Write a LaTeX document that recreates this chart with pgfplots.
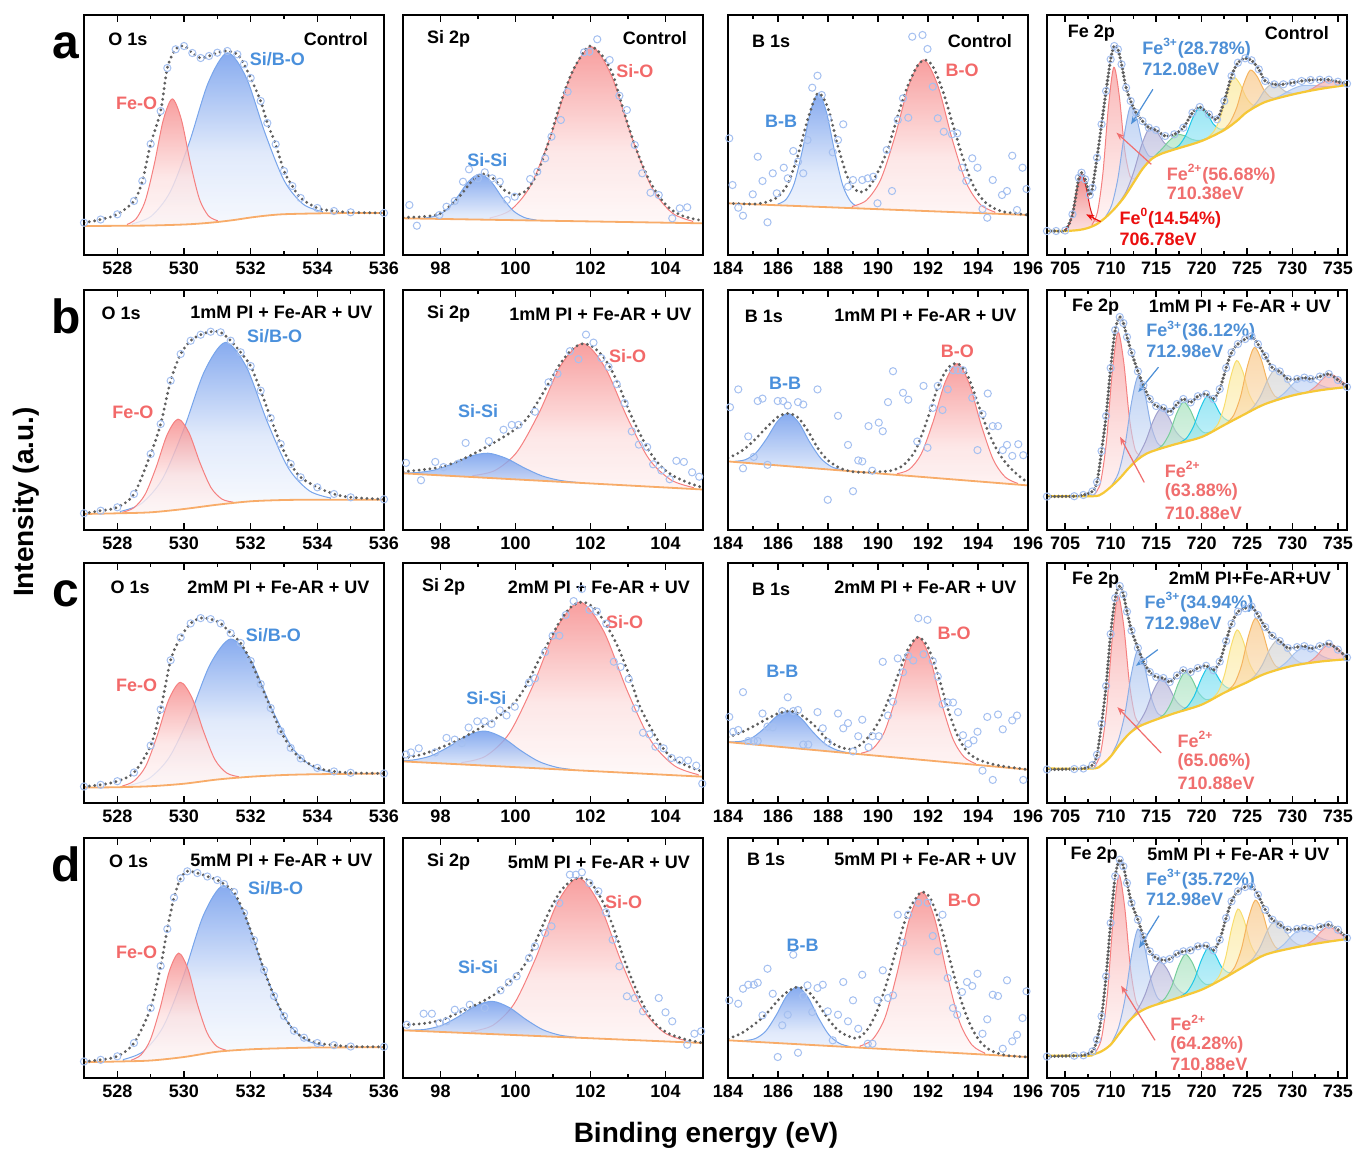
\documentclass[border=0pt]{standalone}
\usepackage{fontspec}
\setmainfont{Liberation Sans}
\usepackage{pgfplots}
\usepackage{pgfplotstable}
\pgfplotsset{compat=1.18}
\usetikzlibrary{arrows.meta}

\definecolor{pkR}{RGB}{245,128,128}
\definecolor{pkRf}{RGB}{246,135,135}
\definecolor{pkB}{RGB}{120,165,235}
\definecolor{pkBf}{RGB}{105,150,235}
\definecolor{bgO}{RGB}{248,172,105}
\definecolor{bgY}{RGB}{246,200,55}
\definecolor{rawc}{RGB}{165,192,240}
\definecolor{labR}{RGB}{242,105,105}
\definecolor{labB}{RGB}{74,144,220}
\definecolor{fe0}{RGB}{225,30,30}
\definecolor{fe0f}{RGB}{232,60,60}
\definecolor{fe3}{RGB}{140,175,232}
\definecolor{fe3f}{RGB}{150,182,236}
\definecolor{fepu}{RGB}{160,160,205}
\definecolor{fepuf}{RGB}{170,170,212}
\definecolor{fegr}{RGB}{120,205,155}
\definecolor{fegrf}{RGB}{150,220,178}
\definecolor{fecy}{RGB}{30,200,232}
\definecolor{fecyf}{RGB}{90,215,238}
\definecolor{feye}{RGB}{248,222,110}
\definecolor{feyef}{RGB}{250,228,135}
\definecolor{feor}{RGB}{245,180,95}
\definecolor{feorf}{RGB}{247,190,115}
\definecolor{fegy}{RGB}{195,195,195}
\definecolor{fegyf}{RGB}{205,205,205}
\definecolor{felb}{RGB}{165,195,240}
\definecolor{felbf}{RGB}{180,202,242}
\definecolor{fepk}{RGB}{238,150,150}
\definecolor{fepkf}{RGB}{242,165,165}
\definecolor{envc}{RGB}{95,95,95}
\definecolor{labFe3}{RGB}{77,143,214}
\definecolor{labFe2}{RGB}{240,110,110}
\definecolor{labFe0}{RGB}{235,15,15}

\newcommand{\lf}{\bfseries\fontsize{9}{10.5}\selectfont}
\newcommand{\pk}[3]{\addplot[draw=#1, line width=0.5pt, top color=#2, bottom color=white, middle color=#2!25, fill opacity=0.8, smooth] coordinates {#3} \closedcycle;}
\newcommand{\fpk}[3]{\addplot[draw=#1, line width=0.5pt, top color=#2, bottom color=white, middle color=#2!45, fill opacity=0.6, smooth] coordinates {#3} \closedcycle;}

\pgfplotsset{
 panel/.style={anchor=north west, scale only axis, width=150pt, height=120pt, ymin=0, ymax=240, ytick=\empty, axis on top, axis line style={line width=1pt}, tick style={line width=0.8pt, black}, major tick length=3.5pt, minor tick length=2pt, tick align=inside, minor x tick num=1, xticklabel style={font=\lf}, /pgf/number format/assume math mode=true},
 cover/.style={fill=white, draw=none, smooth},
 bgline/.style={draw=bgO, line width=0.9pt, smooth},
 bglineY/.style={draw=bgY, line width=1.1pt, smooth},
 raw/.style={only marks, mark=o, mark size=1.8pt, draw=rawc, mark options={line width=0.5pt}},
 env/.style={draw=envc, line width=1.6pt, line cap=round, dash pattern=on 0pt off 2.7pt, smooth},
 envF/.style={draw=envc, line width=1.8pt, line cap=round, dash pattern=on 0pt off 1.9pt, smooth},
}

% ---------------- O 1s ----------------
\pgfplotstableread{
x y
527 29
528 29.2
529 29.5
530 30.5
530.5 31.5
531 33
531.5 35
532 37.5
532.5 39.5
533 40.8
534 41.6
535 42
536 42
}\bgOa
\pgfplotstableread{
x y
527 32.3
527.5 35.5
528 40.7
528.5 54
528.75 74
529 111
529.3 144
529.5 187
529.75 205.7
530 209
530.25 202
530.5 197
530.75 199
531 202.3
531.3 204
531.6 200.7
531.8 190.7
532 177
532.3 154
532.5 132
532.75 110.7
533 84
533.25 69
533.5 57
534 47
534.5 44
535 42.7
536 42
}\envOa
\pgfplotstableread{
x y
527 16
528 16.7
529 17.7
530 21
531 25.3
532 28.7
533 30
534 30.3
536 30.3
}\bgOb
\pgfplotstableread{
x y
527 16.7
527.5 19.3
528 22.7
528.5 36
529 76
529.3 106
529.6 149.3
529.9 176
530.2 189.3
530.5 195.3
530.8 198.3
531.1 197.7
531.4 189.3
531.7 177.7
532 164
532.3 139.3
532.6 112
532.9 86
533.2 66
533.5 52.7
534 42.7
534.5 36
535 32.7
536 30.7
}\envOb
\pgfplotstableread{
x y
527 15.4
528 15.8
529 16.8
530 19.3
531 23.5
532 26.3
533 28
534 28.8
536 29.5
}\bgOc
\pgfplotstableread{
x y
527 16.5
527.5 18.2
528 21.8
528.5 30.5
529 57.5
529.3 93.7
529.6 142.8
529.9 165.6
530.2 179.6
530.5 184.9
530.8 183.9
531.1 179.6
531.4 169.8
531.7 160
532 142
532.3 119
532.6 95
532.9 72
533.2 55.1
533.5 44.6
534 35.1
534.5 31.6
535 30.2
536 29.5
}\envOc
\pgfplotstableread{
x y
527 15.8
528 16.5
529 17.5
530 21
531 26.3
532 28.7
533 29.8
534 30.5
536 30.8
}\bgOd
\pgfplotstableread{
x y
527 16.5
527.5 18.2
528 21.7
528.5 35
529 70
529.3 112
529.5 149
529.7 180.4
529.9 199.7
530.1 206.7
530.4 205
530.7 201.5
531 198
531.2 194
531.5 186
531.8 165
532.1 138
532.4 108
532.7 82
533 62
533.3 47.3
533.6 40.3
534 35
534.5 32.9
535 31.5
536 31.2
}\envOd

% ---------------- Si 2p ----------------
\pgfplotstableread{
x y
97 36.7
105 31.7
}\bgSa
\pgfplotstableread{
x y
97 37.7
97.5 38.3
98 41.7
98.5 58.3
98.8 72.3
99.1 81
99.4 76.7
99.7 65
100 60
100.3 65
100.6 83.3
100.9 115
101.2 152
101.5 182
101.8 202
102 209
102.3 200
102.6 180
102.9 142
103.2 108
103.5 80
103.8 60
104.1 47
104.4 40
104.7 36.5
105 34.3
}\envSa
\pgfplotstableread{
x y
97.17 50
97.37 29.3
97.97 40
98.16 48.3
98.38 54
98.6 73.3
98.76 85.7
99.0 76.7
99.18 82.7
99.38 76.7
99.58 73.3
99.77 55
99.98 58.3
100.39 76
100.58 83.3
100.79 96.7
100.96 118.3
101.21 135
101.39 163.3
101.83 202.7
101.97 203.3
102.18 215.7
102.51 195
102.77 159.3
102.97 145
103.18 110
103.38 81.7
103.6 62.3
103.82 60
104.18 36.7
104.38 46.7
104.58 47.7
}\rawSa
\pgfplotstableread{
x y
97 56.7
105 40.5
}\bgSb
\pgfplotstableread{
x y
97 58.4
97.5 60.2
98 62.9
98.5 69.2
99 78.5
99.5 88.9
100 101
100.3 111.3
100.6 128.6
100.9 147.7
101.2 166.7
101.5 180.5
101.8 186.4
102.1 182.2
102.4 170.1
102.7 149.4
103 121.7
103.3 97.5
103.6 76.8
103.9 62.9
104.2 54.3
104.6 47.4
105 42.2
}\envSb
\pgfplotstableread{
x y
97.08 67.1
97.48 49.8
97.86 68.1
98.08 62.9
98.48 66.4
98.67 87.1
99.29 88.9
99.68 100.3
99.9 105.1
100.08 105.1
100.52 118.3
100.88 147.7
101.12 156.3
101.45 178.8
101.68 170.8
101.88 195.4
102.08 187.4
102.29 171.9
102.48 163.2
102.7 145.9
102.91 126.9
103.1 98.6
103.29 85.4
103.51 83
103.67 65.7
103.89 59.5
104.11 50.8
104.29 69.2
104.49 68.1
104.71 57.7
104.9 53.3
}\rawSb
\pgfplotstableread{
x y
97 41.6
105 26.3
}\bgSc
\pgfplotstableread{
x y
97 45
97.5 48.5
98 55.4
98.5 63.4
99 73.8
99.5 85.2
100 101.5
100.3 118.8
100.6 141.3
100.9 162.1
101.2 182.8
101.5 196.7
101.8 200.9
102.1 195
102.4 179.4
102.7 158.6
103 130.9
103.3 98
103.6 75.5
103.9 56.4
104.2 44.3
104.6 36.7
105 31.2
}\envSc
\pgfplotstableread{
x y
97.08 48.5
97.21 50.6
97.42 54.7
97.86 50.6
98.16 65.1
98.38 63.4
98.57 59.9
98.75 75.5
98.98 81.7
99.18 81.7
99.36 79
99.58 92.8
99.76 87.6
99.98 96.3
100.36 120.5
100.52 124.7
100.79 151
100.99 167.3
101.17 167.3
101.34 188
101.55 201.9
101.77 214
101.97 193.2
102.17 191.5
102.42 179.4
102.62 141.3
102.8 136.1
103.02 124
103.2 94.5
103.4 70.3
103.57 68.6
103.73 56.4
103.95 54.7
104.16 45
104.38 42.6
104.6 42.6
104.82 37.4
104.98 19.4
}\rawSc
\pgfplotstableread{
x y
97 47.7
105 35
}\bgSd
\pgfplotstableread{
x y
97 53.3
97.5 54.3
98 57.7
98.5 65.7
99 74.3
99.5 85
100 101.7
100.3 116.7
100.6 141.7
100.9 166.7
101.2 186.7
101.5 197.7
101.75 200
102 195.7
102.3 178.3
102.6 151.7
102.9 118.3
103.2 90
103.5 66.7
103.8 51.7
104.1 44.3
104.5 39
105 35
}\envSd
\pgfplotstableread{
x y
97.1 53.3
97.55 64.3
97.77 64.3
97.97 55
98.16 56.7
98.38 68.3
98.6 66.7
98.78 73.3
99.18 70
99.6 87.7
99.82 95.7
100.03 101.7
100.36 120
100.52 131.7
100.79 145
100.96 151.7
101.17 175
101.45 203.3
101.61 203.3
101.77 205.7
101.97 195
102.21 186.7
102.41 165.7
102.59 138.3
102.77 111.7
102.97 81.7
103.18 80
103.4 66.7
103.82 80
104.0 65.7
104.18 56.7
104.58 33.3
104.77 44.3
104.95 46.7
}\rawSd

% ---------------- B 1s ----------------
\pgfplotstableread{
x y
184 51.7
196 40
}\bgBa
\pgfplotstableread{
x y
184 51.7
185 51
185.5 52.7
186 58.3
186.4 71.7
186.8 100
187.2 136.7
187.6 161.7
188 146.7
188.4 108.3
188.8 76.7
189.2 63.3
189.6 66.7
190 83.3
190.4 106.7
190.8 140
191.2 170
191.6 190
191.9 195
192.2 188.3
192.6 163.3
193 130
193.4 96.7
193.8 70
194.2 55
194.6 47.3
195 43.3
195.5 41.7
196 40
}\envBa
\pgfplotstableread{
x y
184.05 116.7
184.18 70
184.41 47.3
184.6 39.3
184.99 60.7
185.19 98.3
185.38 74
185.58 32.7
185.79 81.7
185.95 61.7
186.23 87.3
186.39 76.7
186.61 104
186.8 93.3
187.01 81.7
187.18 115
187.37 167.3
187.58 179.3
187.75 160
187.99 136.7
188.19 102.7
188.4 115
188.61 130.7
188.8 68.3
189.0 75
189.37 75
189.59 76.7
189.81 78.3
189.98 51.7
190.35 105
190.56 64
190.79 135
191.0 156.7
191.21 137.3
191.37 218.3
191.78 220
191.98 206
192.19 168.3
192.39 136.7
192.63 123.3
192.96 120.7
193.17 121.7
193.36 87.3
193.53 74
193.77 96.7
193.98 87.3
194.18 46
194.37 37.3
194.59 75
194.96 60
195.16 64
195.37 99.3
195.56 45
195.78 87.3
195.94 66
}\rawBa
\pgfplotstableread{
x y
184 68.6
196 44.6
}\bgBb
\pgfplotstableread{
x y
184 72
184.5 78.2
185 88.5
185.5 101.5
186 113.2
186.4 116.6
186.8 112.5
187.2 98.8
187.6 81.6
188 69.6
188.5 61.7
189 58.3
189.5 57.6
190 58.3
190.5 59.3
191 64.5
191.5 79.9
192 112.5
192.4 143.4
192.8 162.2
193.2 166.4
193.6 153.7
194 126.2
194.4 98.8
194.8 78.2
195.2 64.5
195.6 54.9
196 47.3
}\envBb
\pgfplotstableread{
x y
184.08 122.8
184.41 140.6
184.6 61.7
184.81 93.6
185.03 73.1
185.19 129
185.38 131.4
185.58 65.2
185.99 129
186.2 129
186.39 124.5
186.8 127.9
187.01 125.5
187.58 140.6
187.99 30.2
188.4 114.2
188.8 85.1
189.0 38.8
189.21 69.6
189.37 68.6
189.62 103.9
189.77 59.3
190.03 107.4
190.19 98.8
190.4 127.9
190.6 158.8
191.0 137.2
191.21 130.3
191.57 88.5
191.82 144.1
191.98 82.3
192.19 122.1
192.39 144.1
192.58 120
192.79 140.6
193.0 159.8
193.2 159.8
193.4 159.8
193.77 132.1
193.98 79.9
194.18 115.9
194.39 136.5
194.59 103.9
194.8 103.9
194.99 79.9
195.16 85.1
195.37 74.1
195.61 85.8
195.81 74.8
}\rawBb
\pgfplotstableread{
x y
184 60.9
196 33.4
}\bgBc
\pgfplotstableread{
x y
184 66.1
184.5 70.2
185 76.4
185.5 83.3
186 89.5
186.5 91.9
187 86.8
187.5 76.4
188 62.7
188.5 55.8
189 54.1
189.5 62.7
190 79.9
190.4 102.3
190.8 128.1
191.2 153.9
191.6 166
192 155.6
192.4 128.1
192.8 93.7
193.2 66.1
193.6 50.6
194 43.7
194.5 39.3
195 36.8
195.5 35.1
196 33.4
}\envBc
\pgfplotstableread{
x y
184.05 86.1
184.21 71.3
184.41 73
184.6 110.9
184.81 62
185.03 62
185.19 62
185.38 89.5
185.58 76.4
185.79 75.7
186.17 91.9
186.39 105.7
186.61 91.9
186.8 93
187.01 58.5
187.21 58.5
187.58 90.9
187.79 74.7
187.99 60.9
188.4 89.5
188.61 74.7
188.8 79.9
189.0 51.6
189.21 66.8
189.37 83.3
189.62 55.8
189.78 66.8
190.03 66.8
190.19 141.2
190.4 87.5
190.6 101.2
190.79 144.6
191.0 130.8
191.21 147
191.41 142.5
191.61 184.9
191.82 148.7
191.98 183.2
192.19 141.9
192.39 126.4
192.58 98.8
192.79 100.5
193.0 100.5
193.2 90.9
193.4 67.8
193.61 59.2
193.82 62.7
193.98 71.3
194.18 32.4
194.37 86.1
194.59 23.1
194.8 88.5
194.99 73.7
195.37 82.6
195.56 87.5
195.81 23.1
}\rawBc
\pgfplotstableread{
x y
184 37.7
196 21
}\bgBd
\pgfplotstableread{
x y
184 39.3
184.5 44.3
185 52.7
185.5 63.3
186 77.7
186.4 86.7
186.8 91
187.2 86.7
187.6 74.3
188 59.3
188.4 47.7
188.8 42
189.2 40
189.6 49.3
190 69.3
190.4 99.3
190.8 134.3
191.2 166
191.6 182.7
191.8 186
192.1 179.3
192.5 152.7
192.9 116
193.3 79.3
193.7 52.7
194.1 36
194.5 27.7
195 23.3
195.5 21.7
196 21
}\envBd
\pgfplotstableread{
x y
184.05 77.7
184.41 74.3
184.6 89.3
184.81 93.3
185.03 93.3
185.19 95.3
185.38 62.7
185.58 109.3
185.79 84.3
185.99 21
186.17 52.7
186.39 63.3
186.61 123.3
186.8 25.3
187.01 82
187.18 92.7
187.37 66
187.58 90
187.79 93.3
187.99 66.7
188.19 37.7
188.4 63.3
188.61 96
188.8 56.7
189.0 77.7
189.21 49.3
189.37 103.3
189.59 34.3
189.78 34.3
189.98 77.7
190.19 107.7
190.4 80
190.6 82.7
190.79 163.3
191.0 135.3
191.21 163.3
191.61 175.3
191.98 175.3
192.19 142
192.39 126.7
192.58 163.3
192.79 100
193.0 70
193.17 63.3
193.36 86
193.56 96
193.77 92
193.98 104.3
194.18 44.3
194.37 58.7
194.59 83.3
194.8 82
194.99 29.3
195.16 97.7
195.37 36.7
195.56 43.3
195.78 60
195.94 86.7
}\rawBd

% ---------------- Fe 2p ----------------
\pgfplotstableread{
x y
703 24
705 24
706.5 25
707.5 27
708.5 31
709.5 38
710.5 47
711.5 58
712.5 72
713.5 86
714.5 96
715.5 101
717 105.5
720 114
722.5 125
724 135
725 143
727 153
730 160.5
733 166
736 170
}\bgFa
\pgfplotstableread{
x y
703 24
704 24
705 24.5
705.8 40.7
706.5 77.3
706.8 82.3
707.2 75.7
707.7 60
708 67.3
708.5 97.3
709 130.7
709.5 164
710 195.7
710.4 209
710.8 205.7
711.2 190.7
711.7 167.3
712.2 154
712.8 142.3
713.5 134
714.2 127.3
715 125
716 119
717 120.7
718 127.3
719 142.3
719.8 148
720.8 140.7
721.7 135.7
722.5 154
723.3 179
724 192.3
724.8 196.7
725.5 194.7
726.3 185.7
727 174
728 170.7
729 170.7
730 172.3
731 174
732 175
733 175.3
734 175.3
735 173.3
736 171.3
}\envFa
\pgfplotstableread{
x y
703 33.8
708 33.8
709 36
710 43
711 51.7
712 62
713 70.7
714 76.6
715 80
717 85.5
720 93
722.5 105
725 117
727 126
730 134.5
733 139.7
736 143
}\bgFb
\pgfplotstableread{
x y
703 33.5
706 33.8
707 35
708 38.6
708.5 48
709 79
709.5 114
710 162
710.5 200
711 213
711.4 207
711.8 193
712.3 177.6
713 158.6
713.6 144.8
714.3 131
715 124
715.8 122
716.5 118
717.3 126
718 131
718.8 127.6
719.6 133.8
720.5 136
721.3 131
722 141
722.7 162
723.3 177.6
724 186
724.8 191
725.5 193.8
726.2 186
727 174
727.8 162
728.6 158.6
729.5 151
730.5 151
731.3 152.4
732 151
733 153.4
734 156
735 150
736 143
}\envFb
\pgfplotstableread{
x y
703 34.5
708 34.5
709 38
710 46.5
711 58.6
712 69
713 75.9
714 80
715 83.4
717 89.7
720 98.3
722.5 110.3
725 120.7
727 129.3
730 137.2
733 141.4
736 143.8
}\bgFc
\pgfplotstableread{
x y
703 33.5
706 34
707 34.5
708 38
708.5 48.3
709 79.3
709.5 117
710 169
710.5 205
711 217
711.4 208.6
711.8 191.4
712.3 172.4
713 155
713.6 141.4
714.3 131
715 126
715.8 125
716.5 121
717.3 127.6
718 132.8
718.8 131
719.6 135
720.5 137.2
721.3 132.8
722 141.4
722.7 162
723.3 179.3
724 191.4
724.8 194.8
725.5 196.6
726.2 188
727 175.9
727.8 167.2
728.6 162
729.5 155
730.5 155.9
731.3 156.9
732 154.5
733 156.9
734 159.3
735 153.4
736 145.5
}\envFc
\pgfplotstableread{
x y
703 22.3
707.5 22.3
708 23.3
709 26.7
710 33.3
711 45
712 56.7
713 65
714 70
715 73.3
717 79
720 88.3
722.5 100
725 113.3
727 123.3
730 130
733 135
736 139
}\bgFd
\pgfplotstableread{
x y
703 21.5
706 22.3
707 22.7
708 26.7
708.5 38.3
709 61.7
709.5 101.7
710 155
710.5 201.7
711 218.3
711.4 211.7
711.8 195
712.3 175
713 158.3
713.6 141.7
714.3 126.7
715 120
715.8 117.7
716.5 119
717.3 124.3
718 126.7
718.8 127.7
719.6 131.7
720.5 132.3
721.3 127.7
722 138.3
722.7 160
723.3 176.7
724 186.7
724.8 191
725.5 191.7
726.2 183.3
727 168.3
727.8 158.3
728.6 153.3
729.5 148.3
730.5 149
731.3 150
732 149
733 151
734 153.3
735 148.3
736 140
}\envFd

\begin{document}
\begin{tikzpicture}
\useasboundingbox (0,0) rectangle (678pt,-574pt);

% ================= ROW a =================
\begin{axis}[panel, at={(42pt,-7.5pt)}, xmin=527, xmax=536, xtick={528,530,532,534,536}]
\pk{pkB}{pkBf}{(528.45,31.2) (529.02,38.9) (529.59,63.4) (530.16,112.6) (530.73,172.5) (531.3,202.2) (531.87,177.2) (532.44,121.1) (533.01,74.1) (533.58,50.7) (534.15,43.4)}
\pk{pkR}{pkRf}{(528.30,30.7) (528.57,36.5) (528.84,54.4) (529.11,91.0) (529.38,135.1) (529.65,156.1) (529.92,135.6) (530.19,92.3) (530.46,56.3) (530.73,39.3) (531.00,34.4)}
\addplot[cover] table {\bgOa} \closedcycle;
\addplot[bgline] table {\bgOa};
\addplot[raw] table {\envOa};
\addplot[env] table {\envOa};
\node[anchor=west, font=\lf] at (rel axis cs:0.058,0.9) {O 1s};
\node[anchor=east, font=\lf] at (rel axis cs:0.97,0.9) {Control};
\node[font=\lf, text=labR] at (axis cs:528.58,152) {Fe-O};
\node[font=\lf, text=labB] at (axis cs:532.8,196) {Si/B-O};
\end{axis}

\begin{axis}[panel, at={(201.5pt,-7.5pt)}, xmin=97, xmax=105, xtick={98,100,102,104}]
\pk{pkR}{pkRf}{(99.32,37.1) (99.86,44.7) (100.4,69.2) (100.94,119.3) (101.48,179.8) (102.02,208.3) (102.56,179.1) (103.1,117.8) (103.64,67.1) (104.18,42) (104.72,33.8)}
\pk{pkB}{pkBf}{(97.55,36.9) (97.85,38.8) (98.15,45) (98.45,58) (98.75,73.7) (99.05,81) (99.35,73.3) (99.65,57.2) (99.95,43.9) (100.25,37.3) (100.55,35)}
\addplot[cover] table {\bgSa} \closedcycle;
\addplot[bgline] table {\bgSa};
\addplot[raw] table {\rawSa};
\addplot[env] table {\envSa};
\node[anchor=west, font=\lf] at (rel axis cs:0.057,0.9) {Si 2p};
\node[anchor=east, font=\lf] at (rel axis cs:0.97,0.905) {Control};
\node[font=\lf, text=labB] at (axis cs:99.25,95) {Si-Si};
\node[font=\lf, text=labR] at (axis cs:103.18,184.3) {Si-O};
\end{axis}

\begin{axis}[panel, at={(364pt,-7.5pt)}, xmin=184, xmax=196, xtick={184,186,...,196}]
\pk{pkB}{pkBf}{(186.0,51) (186.33,55.8) (186.65,71.6) (186.97,104.1) (187.3,143.3) (187.62,161.7) (187.94,142.6) (188.27,102.8) (188.59,69.7) (188.91,53.3) (189.24,47.7)}
\pk{pkR}{pkRf}{(188.97,48.6) (189.54,54.8) (190.11,75.6) (190.68,118.7) (191.25,170.7) (191.82,195.1) (192.39,169.6) (192.96,116.4) (193.53,72.3) (194.1,50.4) (194.67,43)}
\addplot[cover] table {\bgBa} \closedcycle;
\addplot[bgline] table {\bgBa};
\addplot[raw] table {\rawBa};
\addplot[env] table {\envBa};
\node[anchor=west, font=\lf] at (rel axis cs:0.057,0.89) {B 1s};
\node[anchor=east, font=\lf] at (rel axis cs:0.97,0.89) {Control};
\node[font=\lf, text=labB] at (axis cs:186.12,133.3) {B-B};
\node[font=\lf, text=labR] at (axis cs:193.36,185) {B-O};
\end{axis}

\begin{axis}[panel, at={(523.5pt,-7.5pt)}, xmin=703, xmax=736, xtick={705,710,...,735}]
\fpk{fe0}{fe0f}{(704.85,24.6) (705.34,28.6) (705.83,42.5) (706.31,66.4) (706.8,80.6) (707.29,68.1) (707.78,46) (708.26,34.4) (708.75,33.4)}
\fpk{pkR}{pkRf}{(707.95,30.4) (708.55,42.8) (709.15,81.8) (709.75,147.5) (710.35,187.7) (710.95,159.2) (711.55,104.9) (712.15,78.5) (712.75,77.1)}
\fpk{fe3}{fe3f}{(709.45,38.5) (710.13,50.2) (710.8,76.6) (711.48,119) (712.15,148.1) (712.83,137.8) (713.5,112.3) (714.18,99.3) (714.85,98.7)}
\fpk{fepu}{fepuf}{(710.9,51.8) (711.73,63.8) (712.55,83.4) (713.38,109.2) (714.2,126) (715.03,123.6) (715.85,112.7) (716.68,107.1) (717.5,107.3)}
\fpk{fegr}{fegrf}{(714,91.2) (714.83,98.7) (715.65,106.1) (716.48,114.6) (717.3,120.4) (718.13,119.3) (718.95,115.6) (719.78,114.5) (720.6,116.8)}
\fpk{fecy}{fecyf}{(716.8,105.3) (717.55,109.9) (718.3,120.4) (719.05,137.3) (719.8,147.9) (720.55,142.4) (721.3,130.9) (722.05,125.8) (722.8,127.4)}
\fpk{feye}{feyef}{(720.65,117.4) (721.36,123.7) (722.08,138) (722.79,161.4) (723.5,177.4) (724.21,171.2) (724.93,157.3) (725.64,149.9) (726.35,150.3)}
\fpk{feor}{feorf}{(722.35,124.8) (723.1,132.2) (723.85,147) (724.6,170) (725.35,184.8) (726.1,178.7) (726.85,165.3) (727.6,157.7) (728.35,156.8)}
\fpk{fegy}{fegyf}{(724.7,140.8) (725.45,146.5) (726.2,154.2) (726.95,164.9) (727.7,170.8) (728.45,168.7) (729.2,163.7) (729.95,161.7) (730.7,162)}
\fpk{felb}{felbf}{(726.5,150.6) (727.63,155.2) (728.75,159.7) (729.88,165.5) (731,169.3) (732.13,169.7) (733.25,168.7) (734.38,168.4) (735.5,169.6)}
\fpk{fepk}{fepkf}{(730.8,162.1) (731.55,163.9) (732.3,167) (733.05,171.4) (733.8,174) (734.55,173.3) (735.3,171.3) (736.05,170.6) (736.8,171.1)}
\addplot[cover] table {\bgFa} \closedcycle;
\addplot[bglineY] table {\bgFa};
\addplot[raw] table {\envFa};
\addplot[envF] table {\envFa};
\node[anchor=west, font=\lf] at (rel axis cs:0.046,0.925) {Fe 2p};
\node[anchor=east, font=\lf] at (rel axis cs:0.963,0.925) {Control};
\node[anchor=west, font=\lf, text=labFe3] at (axis cs:712.7,207) {Fe\textsuperscript{3+}(28.78\%)};
\node[anchor=west, font=\lf, text=labFe3] at (axis cs:712.7,186) {712.08eV};
\draw[-{Stealth[length=4pt,width=3pt]}, labFe3, line width=0.6pt] (axis cs:714.65,165.7) -- (axis cs:712.24,130.7);
\node[anchor=west, font=\lf, text=labFe2] at (axis cs:715.4,80.7) {Fe\textsuperscript{2+}(56.68\%)};
\node[anchor=west, font=\lf, text=labFe2] at (axis cs:715.4,61.3) {710.38eV};
\draw[-{Stealth[length=4pt,width=3pt]}, labFe2, line width=0.6pt] (axis cs:714.47,90.7) -- (axis cs:710.64,122.3);
\node[anchor=west, font=\lf, text=labFe0] at (axis cs:710.2,36.7) {Fe\textsuperscript{0}(14.54\%)};
\node[anchor=west, font=\lf, text=labFe0] at (axis cs:710.2,15.7) {706.78eV};
\draw[-{Stealth[length=4pt,width=3pt]}, labFe0, line width=0.6pt] (axis cs:708.9,33.3) -- (axis cs:707.3,40.7);
\end{axis}

% ================= ROW b =================
\begin{axis}[panel, at={(42pt,-145pt)}, xmin=527, xmax=536, xtick={528,530,532,534,536}]
\pk{pkB}{pkBf}{(528.09,18.6) (528.72,26.4) (529.35,50.9) (529.98,99.6) (530.61,158.5) (531.24,187.6) (531.87,163.2) (532.5,108.1) (533.13,62) (533.76,39.2) (534.39,32.1)}
\pk{pkR}{pkRf}{(528.17,17.9) (528.5,22.3) (528.83,35.4) (529.16,62.3) (529.49,94.9) (529.82,110.9) (530.15,97.2) (530.48,67.2) (530.81,42.4) (531.14,30.9) (531.47,27.9)}
\addplot[cover] table {\bgOb} \closedcycle;
\addplot[bgline] table {\bgOb};
\addplot[raw] table {\envOb};
\addplot[env] table {\envOb};
\node[anchor=west, font=\lf] at (rel axis cs:0.035,0.905) {O 1s};
\node[anchor=east, font=\lf] at (rel axis cs:0.985,0.905) {1mM PI + Fe-AR + UV};
\node[font=\lf, text=labR] at (axis cs:528.47,117.7) {Fe-O};
\node[font=\lf, text=labB] at (axis cs:532.72,194.3) {Si/B-O};
\end{axis}

\begin{axis}[panel, at={(201.5pt,-145pt)}, xmin=97, xmax=105, xtick={98,100,102,104}]
\pk{pkR}{pkRf}{(98.86,54.4) (99.45,59.5) (100.04,78.1) (100.63,117.3) (101.21,164.7) (101.8,186.5) (102.39,162.3) (102.98,112.5) (103.56,71) (104.15,50) (104.74,42.5)}
\pk{pkB}{pkBf}{(96.87,57.3) (97.35,57.4) (97.83,59.9) (98.31,66) (98.79,73.7) (99.27,76.8) (99.75,71.7) (100.23,62.2) (100.71,54.1) (101.19,49.6) (101.67,47.5)}
\addplot[cover] table {\bgSb} \closedcycle;
\addplot[bgline] table {\bgSb};
\addplot[raw] table {\rawSb};
\addplot[env] table {\envSb};
\node[anchor=west, font=\lf] at (rel axis cs:0.057,0.9) {Si 2p};
\node[anchor=east, font=\lf] at (rel axis cs:0.985,0.9) {1mM PI + Fe-AR + UV};
\node[font=\lf, text=labB] at (axis cs:99.0,119) {Si-Si};
\node[font=\lf, text=labR] at (axis cs:102.99,173.6) {Si-O};
\end{axis}

\begin{axis}[panel, at={(364pt,-145pt)}, xmin=184, xmax=196, xtick={184,186,...,196}]
\pk{pkB}{pkBf}{(184.25,68.7) (184.68,70.2) (185.11,76.9) (185.54,91.2) (185.98,108.7) (186.41,116.6) (186.84,107) (187.27,87.8) (187.71,71.7) (188.14,63.3) (188.57,60.1)}
\pk{pkR}{pkRf}{(190.77,56.4) (191.25,60.6) (191.73,76.1) (192.21,108.7) (192.69,148.1) (193.17,166.3) (193.65,146.2) (194.13,104.8) (194.61,70.4) (195.09,52.9) (195.57,46.8)}
\addplot[cover] table {\bgBb} \closedcycle;
\addplot[bgline] table {\bgBb};
\addplot[raw] table {\rawBb};
\addplot[env] table {\envBb};
\node[anchor=west, font=\lf] at (rel axis cs:0.033,0.89) {B 1s};
\node[anchor=east, font=\lf] at (rel axis cs:0.985,0.895) {1mM PI + Fe-AR + UV};
\node[font=\lf, text=labB] at (axis cs:186.28,146.8) {B-B};
\node[font=\lf, text=labR] at (axis cs:193.17,178.4) {B-O};
\end{axis}

\begin{axis}[panel, at={(523.5pt,-145pt)}, xmin=703, xmax=736, xtick={705,710,...,735}]
\fpk{pkR}{pkRf}{(708.25,36) (708.89,47.6) (709.53,87.8) (710.16,156.1) (710.8,198) (711.44,167.9) (712.08,110.8) (712.71,80) (713.35,74.4)}
\fpk{fe3}{fe3f}{(710.15,45.2) (710.86,57.1) (711.58,84.7) (712.29,127.2) (713,153.7) (713.71,138.6) (714.43,105.1) (715.14,87) (715.85,83.2)}
\fpk{fepu}{fepuf}{(712.2,64.1) (713.03,74.1) (713.85,88.7) (714.68,109.1) (715.5,121.4) (716.33,113.8) (717.15,98.9) (717.98,91.2) (718.8,90.4)}
\fpk{fegr}{fegrf}{(715,80.4) (715.75,85.3) (716.5,97.1) (717.25,116.3) (718,128) (718.75,120.1) (719.5,104.8) (720.25,97.4) (721,98.2)}
\fpk{fecy}{fecyf}{(717.6,87.4) (718.35,91.9) (719.1,103.2) (719.85,121.3) (720.6,133.9) (721.35,128.2) (722.1,115.5) (722.85,109.7) (723.6,110.7)}
\fpk{feye}{feyef}{(721.15,99.1) (721.83,106.4) (722.5,123.9) (723.18,152.1) (723.85,169.5) (724.53,158.5) (725.2,136.8) (725.88,125.6) (726.55,124.6)}
\fpk{feor}{feorf}{(722.8,107.1) (723.55,115) (724.3,133.8) (725.05,164) (725.8,182.6) (726.55,170.8) (727.3,147.1) (728.05,134) (728.8,131.8)}
\fpk{fegy}{fegyf}{(724.85,116.7) (725.68,122.7) (726.5,134.2) (727.33,151.2) (728.15,161.3) (728.98,155.8) (729.8,144.3) (730.63,138.2) (731.45,137.4)}
\fpk{felb}{felbf}{(727.2,126.8) (728.18,130.7) (729.15,137.3) (730.13,146.8) (731.1,152.4) (732.08,150.2) (733.05,145) (734.03,142.1) (735,142.1)}
\fpk{fepk}{fepkf}{(731.1,136.6) (731.85,138.9) (732.6,143.9) (733.35,151.3) (734.1,155.9) (734.85,153) (735.6,147.5) (736.35,144.6) (737.1,144.4)}
\addplot[cover] table {\bgFb} \closedcycle;
\addplot[bglineY] table {\bgFb};
\addplot[raw] table {\envFb};
\addplot[envF] table {\envFb};
\node[anchor=west, font=\lf] at (rel axis cs:0.06,0.93) {Fe 2p};
\node[anchor=east, font=\lf] at (rel axis cs:0.97,0.93) {1mM PI + Fe-AR + UV};
\node[anchor=west, font=\lf, text=labFe3] at (axis cs:713.15,199.5) {Fe\textsuperscript{3+}(36.12\%)};
\node[anchor=west, font=\lf, text=labFe3] at (axis cs:713.15,179) {712.98eV};
\draw[-{Stealth[length=4pt,width=3pt]}, labFe3, line width=0.6pt] (axis cs:715.26,162.8) -- (axis cs:713.04,137.9);
\node[anchor=west, font=\lf, text=labFe2] at (axis cs:715.19,60.3) {Fe\textsuperscript{2+}};
\node[anchor=west, font=\lf, text=labFe2] at (axis cs:715.19,37.9) {(63.88\%)};
\node[anchor=west, font=\lf, text=labFe2] at (axis cs:715.19,16.6) {710.88eV};
\draw[-{Stealth[length=4pt,width=3pt]}, labFe2, line width=0.6pt] (axis cs:713.7,47.6) -- (axis cs:711.04,93.1);
\end{axis}

% ================= ROW c =================
\begin{axis}[panel, at={(42pt,-281.5pt)}, xmin=527, xmax=536, xtick={528,530,532,534,536}]
\pk{pkB}{pkBf}{(528.34,17.5) (528.95,24.5) (529.56,45.8) (530.18,88) (530.79,139) (531.4,164) (532.01,142.7) (532.62,95.3) (533.24,55.8) (533.85,36.5) (534.46,30.5)}
\pk{pkR}{pkRf}{(528.15,17) (528.5,22) (528.85,36.7) (529.19,66.8) (529.54,103.1) (529.89,120.7) (530.24,105.2) (530.59,71.3) (530.93,43.3) (531.28,30) (531.63,26.4)}
\addplot[cover] table {\bgOc} \closedcycle;
\addplot[bgline] table {\bgOc};
\addplot[raw] table {\envOc};
\addplot[env] table {\envOc};
\node[anchor=west, font=\lf] at (rel axis cs:0.065,0.9) {O 1s};
\node[anchor=east, font=\lf] at (rel axis cs:0.975,0.9) {2mM PI + Fe-AR + UV};
\node[font=\lf, text=labR] at (axis cs:528.58,118.2) {Fe-O};
\node[font=\lf, text=labB] at (axis cs:532.68,167.4) {Si/B-O};
\end{axis}

\begin{axis}[panel, at={(201.5pt,-281.5pt)}, xmin=97, xmax=105, xtick={98,100,102,104}]
\pk{pkR}{pkRf}{(98.57,40.5) (99.2,46.8) (99.83,69.5) (100.46,117) (101.09,174.3) (101.72,200.9) (102.35,171.9) (102.98,112.2) (103.61,62.3) (104.24,37.2) (104.87,28.4)}
\pk{pkB}{pkBf}{(96.78,42.4) (97.26,43) (97.74,47.1) (98.22,56.2) (98.7,67.3) (99.18,72) (99.66,65.4) (100.14,52.5) (100.62,41.6) (101.1,35.7) (101.58,33.2)}
\addplot[cover] table {\bgSc} \closedcycle;
\addplot[bgline] table {\bgSc};
\addplot[raw] table {\rawSc};
\addplot[env] table {\envSc};
\node[anchor=west, font=\lf] at (rel axis cs:0.04,0.9) {Si 2p};
\node[anchor=east, font=\lf] at (rel axis cs:0.98,0.9) {2mM PI + Fe-AR + UV};
\node[font=\lf, text=labB] at (axis cs:99.22,104.9) {Si-Si};
\node[font=\lf, text=labR] at (axis cs:102.91,181.1) {Si-O};
\end{axis}

\begin{axis}[panel, at={(364pt,-281.5pt)}, xmin=184, xmax=196, xtick={184,186,...,196}]
\pk{pkB}{pkBf}{(184.04,61.2) (184.52,61.7) (185.0,65.8) (185.48,75.3) (185.96,87) (186.44,91.9) (186.92,84.8) (187.4,70.9) (187.88,59.2) (188.36,52.9) (188.84,50.2)}
\pk{pkR}{pkRf}{(189.34,49.9) (189.8,54.5) (190.25,70.8) (190.71,105.2) (191.16,146.7) (191.62,165.9) (192.08,144.6) (192.53,101) (192.99,64.5) (193.44,46.1) (193.9,39.4)}
\addplot[cover] table {\bgBc} \closedcycle;
\addplot[bgline] table {\bgBc};
\addplot[raw] table {\rawBc};
\addplot[env] table {\envBc};
\node[anchor=west, font=\lf] at (rel axis cs:0.057,0.89) {B 1s};
\node[anchor=east, font=\lf] at (rel axis cs:0.985,0.9) {2mM PI + Fe-AR + UV};
\node[font=\lf, text=labB] at (axis cs:186.17,131.5) {B-B};
\node[font=\lf, text=labR] at (axis cs:193.04,169.4) {B-O};
\end{axis}

\begin{axis}[panel, at={(523.5pt,-281.5pt)}, xmin=703, xmax=736, xtick={705,710,...,735}]
\fpk{pkR}{pkRf}{(708.25,37.1) (708.89,49.7) (709.53,91.6) (710.16,162.4) (710.8,207.2) (711.44,177.2) (712.08,118.7) (712.71,86) (713.35,79)}
\fpk{fe3}{fe3f}{(710.15,49.2) (710.86,63.1) (711.58,89.8) (712.29,129.5) (713,153.4) (713.71,137.3) (714.43,106.7) (715.14,90) (715.85,87)}
\fpk{fepu}{fepuf}{(712.2,70.8) (713.03,79.1) (713.85,92.1) (714.68,111.7) (715.5,124) (716.33,117) (717.15,102.8) (717.98,95.6) (718.8,95.3)}
\fpk{fegr}{fegrf}{(715.2,84.4) (715.95,89.4) (716.7,101.1) (717.45,119.7) (718.2,131.1) (718.95,124) (719.7,109.8) (720.45,103.5) (721.2,104.5)}
\fpk{fecy}{fecyf}{(717.7,92.1) (718.45,96.6) (719.2,107.1) (719.95,123.8) (720.7,135.7) (721.45,131) (722.2,120) (722.95,114.9) (723.7,115.8)}
\fpk{feye}{feyef}{(721.2,104.7) (721.88,111.9) (722.55,129) (723.23,156.3) (723.9,173.1) (724.58,162) (725.25,140.3) (725.93,129.3) (726.6,128.2)}
\fpk{feor}{feorf}{(722.9,112.7) (723.65,120) (724.4,137.7) (725.15,166.6) (725.9,184.6) (726.65,173.1) (727.4,149.9) (728.15,137.1) (728.9,135)}
\fpk{fegy}{fegyf}{(725,121) (725.83,126.7) (726.65,137.6) (727.48,153.3) (728.3,162.7) (729.13,157.6) (729.95,146.9) (730.78,140.7) (731.6,139.7)}
\fpk{felb}{felbf}{(727.4,130.6) (728.38,134.4) (729.35,141) (730.33,150.5) (731.3,156) (732.28,153.2) (733.25,147.1) (734.23,143.8) (735.2,143.4)}
\fpk{fepk}{fepkf}{(731.1,138.9) (731.85,141.2) (732.6,146.4) (733.35,154.5) (734.1,159.3) (734.85,155.7) (735.6,149) (736.35,145.5) (737.1,144.9)}
\addplot[cover] table {\bgFc} \closedcycle;
\addplot[bglineY] table {\bgFc};
\addplot[raw] table {\envFc};
\addplot[envF] table {\envFc};
\node[anchor=west, font=\lf] at (rel axis cs:0.06,0.93) {Fe 2p};
\node[anchor=east, font=\lf] at (rel axis cs:0.97,0.935) {2mM PI+Fe-AR+UV};
\node[anchor=west, font=\lf, text=labFe3] at (axis cs:712.96,201) {Fe\textsuperscript{3+}(34.94\%)};
\node[anchor=west, font=\lf, text=labFe3] at (axis cs:712.96,180) {712.98eV};
\draw[-{Stealth[length=4pt,width=3pt]}, labFe3, line width=0.6pt] (axis cs:715.19,153.4) -- (axis cs:712.78,137.2);
\node[anchor=west, font=\lf, text=labFe2] at (axis cs:716.59,63.8) {Fe\textsuperscript{2+}};
\node[anchor=west, font=\lf, text=labFe2] at (axis cs:716.59,41.4) {(65.06\%)};
\node[anchor=west, font=\lf, text=labFe2] at (axis cs:716.59,20) {710.88eV};
\draw[-{Stealth[length=4pt,width=3pt]}, labFe2, line width=0.6pt] (axis cs:715.56,50) -- (axis cs:710.74,95.9);
\end{axis}

% ================= ROW d =================
\begin{axis}[panel, at={(42pt,-419pt)}, xmin=527, xmax=536, xtick={528,530,532,534,536}]
\pk{pkB}{pkBf}{(528.18,18.5) (528.78,26.6) (529.38,51.6) (529.98,101.6) (530.58,162.5) (531.18,192.4) (531.78,166.6) (532.38,109.8) (532.98,62.6) (533.58,39.5) (534.18,32.3)}
\pk{pkR}{pkRf}{(528.43,18) (528.71,23.1) (528.99,38.2) (529.28,69.4) (529.56,106.8) (529.84,124.9) (530.12,108.9) (530.4,74) (530.69,45.4) (530.97,32) (531.25,28)}
\addplot[cover] table {\bgOd} \closedcycle;
\addplot[bgline] table {\bgOd};
\addplot[raw] table {\envOd};
\addplot[env] table {\envOd};
\node[anchor=west, font=\lf] at (rel axis cs:0.06,0.905) {O 1s};
\node[anchor=east, font=\lf] at (rel axis cs:0.985,0.905) {5mM PI + Fe-AR + UV};
\node[font=\lf, text=labR] at (axis cs:528.58,126.1) {Fe-O};
\node[font=\lf, text=labB] at (axis cs:532.75,189.9) {Si/B-O};
\end{axis}

\begin{axis}[panel, at={(201.5pt,-419pt)}, xmin=97, xmax=105, xtick={98,100,102,104}]
\pk{pkR}{pkRf}{(98.83,46.6) (99.4,52.8) (99.97,74.6) (100.54,119.9) (101.11,174.6) (101.68,200.1) (102.25,172.8) (102.82,116.3) (103.39,69.2) (103.96,45.6) (104.53,37.5)}
\pk{pkB}{pkBf}{(97.13,47.9) (97.58,48.6) (98.03,52.6) (98.48,61.4) (98.93,72) (99.38,76.7) (99.83,70.6) (100.28,58.5) (100.73,48.3) (101.18,42.9) (101.63,40.7)}
\addplot[cover] table {\bgSd} \closedcycle;
\addplot[bgline] table {\bgSd};
\addplot[raw] table {\rawSd};
\addplot[env] table {\envSd};
\node[anchor=west, font=\lf] at (rel axis cs:0.057,0.9) {Si 2p};
\node[anchor=east, font=\lf] at (rel axis cs:0.98,0.9) {5mM PI + Fe-AR + UV};
\node[font=\lf, text=labB] at (axis cs:99.0,111) {Si-Si};
\node[font=\lf, text=labR] at (axis cs:102.88,175.7) {Si-O};
\end{axis}

\begin{axis}[panel, at={(364pt,-419pt)}, xmin=184, xmax=196, xtick={184,186,...,196}]
\pk{pkB}{pkBf}{(184.67,37.4) (185.09,39.4) (185.51,46.9) (185.93,62.9) (186.35,82.2) (186.77,91.1) (187.19,81.1) (187.61,60.6) (188.03,43.4) (188.45,34.7) (188.87,31.5)}
\pk{pkR}{pkRf}{(189.28,32) (189.78,38.5) (190.28,60.4) (190.77,105.6) (191.27,160.3) (191.77,185.9) (192.27,159) (192.77,102.9) (193.26,56.3) (193.76,33) (194.26,25.1)}
\addplot[cover] table {\bgBd} \closedcycle;
\addplot[bgline] table {\bgBd};
\addplot[raw] table {\rawBd};
\addplot[env] table {\envBd};
\node[anchor=west, font=\lf] at (rel axis cs:0.04,0.91) {B 1s};
\node[anchor=east, font=\lf] at (rel axis cs:0.985,0.91) {5mM PI + Fe-AR + UV};
\node[font=\lf, text=labB] at (axis cs:186.98,132.7) {B-B};
\node[font=\lf, text=labR] at (axis cs:193.45,177.7) {B-O};
\end{axis}

\begin{axis}[panel, at={(523.5pt,-419pt)}, xmin=703, xmax=736, xtick={705,710,...,735}]
\fpk{pkR}{pkRf}{(708.35,26.2) (708.99,39.4) (709.63,82.6) (710.26,156.3) (710.9,202.8) (711.54,171.3) (712.18,109.9) (712.81,76.1) (713.45,69)}
\fpk{fe3}{fe3f}{(710.15,36) (710.86,50.1) (711.58,79.1) (712.29,122.5) (713,149) (713.71,132) (714.43,98.7) (715.14,80.4) (715.85,76.6)}
\fpk{fepu}{fepuf}{(712.1,58) (712.93,67.8) (713.75,82.5) (714.58,103.6) (715.4,116.4) (716.23,108.5) (717.05,92.9) (717.88,85.1) (718.7,84.8)}
\fpk{fegr}{fegrf}{(715.2,74.4) (715.95,79.3) (716.7,91.4) (717.45,111.3) (718.2,123.7) (718.95,116) (719.7,100.7) (720.45,93.7) (721.2,94.4)}
\fpk{fecy}{fecyf}{(717.7,81.6) (718.45,86.6) (719.2,98.3) (719.95,117.2) (720.7,130.1) (721.45,124.2) (722.2,111.1) (722.95,105.5) (723.7,106.8)}
\fpk{feye}{feyef}{(721.3,95.1) (721.98,102.5) (722.65,120.6) (723.33,150.5) (724,169) (724.68,157.7) (725.35,134.9) (726.03,123.4) (726.7,122.5)}
\fpk{feor}{feorf}{(722.9,102.8) (723.65,110.9) (724.4,129.6) (725.15,159.4) (725.9,177.8) (726.65,166.9) (727.4,143.7) (728.15,130.7) (728.9,128.3)}
\fpk{fegy}{fegyf}{(724.8,112.6) (725.63,119.1) (726.45,131) (727.28,148.1) (728.1,157.8) (728.93,151.8) (729.75,139.8) (730.58,133.6) (731.4,132.7)}
\fpk{felb}{felbf}{(727.1,123.7) (728.08,127.1) (729.05,133.6) (730.03,143.2) (731,149.2) (731.98,146.5) (732.95,140.6) (733.93,137.6) (734.9,137.7)}
\fpk{fepk}{fepkf}{(730.9,131.7) (731.65,134) (732.4,138.9) (733.15,146.5) (733.9,151.2) (734.65,148.5) (735.4,143.1) (736.15,140.4) (736.9,140.4)}
\addplot[cover] table {\bgFd} \closedcycle;
\addplot[bglineY] table {\bgFd};
\addplot[raw] table {\envFd};
\addplot[envF] table {\envFd};
\node[anchor=west, font=\lf] at (rel axis cs:0.055,0.93) {Fe 2p};
\node[anchor=east, font=\lf] at (rel axis cs:0.965,0.93) {5mM PI + Fe-AR + UV};
\node[anchor=west, font=\lf, text=labFe3] at (axis cs:713.12,199) {Fe\textsuperscript{3+}(35.72\%)};
\node[anchor=west, font=\lf, text=labFe3] at (axis cs:713.12,179) {712.98eV};
\draw[-{Stealth[length=4pt,width=3pt]}, labFe3, line width=0.6pt] (axis cs:715.32,162.3) -- (axis cs:713.12,130);
\node[anchor=west, font=\lf, text=labFe2] at (axis cs:715.79,55) {Fe\textsuperscript{2+}};
\node[anchor=west, font=\lf, text=labFe2] at (axis cs:715.79,33.3) {(64.28\%)};
\node[anchor=west, font=\lf, text=labFe2] at (axis cs:715.79,13.3) {710.88eV};
\draw[-{Stealth[length=4pt,width=3pt]}, labFe2, line width=0.6pt] (axis cs:714.88,37.7) -- (axis cs:711.15,92.3);
\end{axis}

% ================= outer labels =================
\node[font=\bfseries\fontsize{24}{24}\selectfont, anchor=base] at (33pt,-29pt) {a};
\node[font=\bfseries\fontsize{24}{24}\selectfont, anchor=base] at (33pt,-166.5pt) {b};
\node[font=\bfseries\fontsize{24}{24}\selectfont, anchor=base] at (33pt,-303pt) {c};
\node[font=\bfseries\fontsize{24}{24}\selectfont, anchor=base] at (33pt,-440.5pt) {d};
\node[font=\bfseries\fontsize{14}{14}\selectfont, rotate=90] at (13pt,-251pt) {Intensity (a.u.)};
\node[font=\bfseries\fontsize{14}{14}\selectfont, anchor=base] at (353pt,-571pt) {Binding energy (eV)};
\end{tikzpicture}
\end{document}
